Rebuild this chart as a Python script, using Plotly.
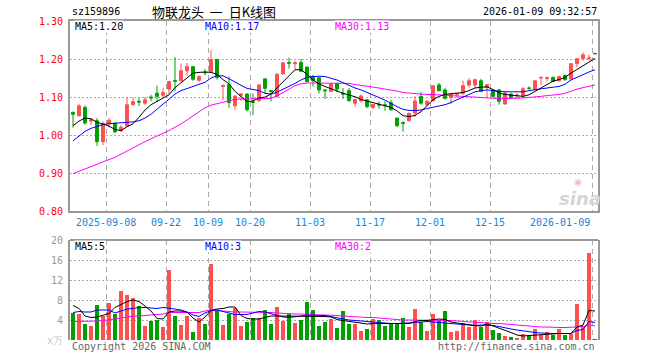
import plotly.graph_objects as go

# ---------------- data ----------------
# trading-day index 0..87  (2025-08-29 .. 2026-01-09)
tick_idx = [6, 16, 23, 30, 40, 50, 60, 70, 87]
tick_labels = ["2025-09-08", "09-22", "10-09", "10-20", "11-03", "11-17", "12-01", "12-15", "2026-01-09"]

opens = [1.060, 1.051, 1.073, 1.037, 1.038, 0.983, 1.031, 1.032, 1.012, 1.024,
         1.080, 1.089, 1.084, 1.100, 1.110, 1.105, 1.121, 1.144, 1.143, 1.169,
         1.180, 1.144, 1.166, 1.167, 1.199, 1.128, 1.133, 1.077, 1.105, 1.108,
         1.088, 1.091, 1.148, 1.117, 1.102, 1.161, 1.191, 1.188, 1.191, 1.179,
         1.154, 1.151, 1.119, 1.115, 1.135, 1.110, 1.117, 1.084, 1.090, 1.093,
         1.073, 1.081, 1.080, 1.085, 1.045, 1.033, 1.038, 1.058, 1.102, 1.080,
         1.090, 1.132, 1.119, 1.099, 1.106, 1.110, 1.132, 1.132, 1.143, 1.125,
         1.119, 1.119, 1.082, 1.108, 1.103, 1.104, 1.124, 1.121, 1.150, 1.149,
         1.152, 1.143, 1.157, 1.148, 1.188, 1.201, 1.202, 1.215]
highs = [1.062, 1.082, 1.078, 1.045, 1.045, 1.036, 1.045, 1.033, 1.027, 1.100,
         1.099, 1.097, 1.100, 1.106, 1.130, 1.124, 1.143, 1.205, 1.188, 1.190,
         1.181, 1.157, 1.174, 1.224, 1.200, 1.132, 1.154, 1.104, 1.110, 1.110,
         1.110, 1.134, 1.148, 1.118, 1.163, 1.191, 1.204, 1.195, 1.200, 1.180,
         1.159, 1.151, 1.120, 1.137, 1.138, 1.124, 1.124, 1.094, 1.107, 1.094,
         1.082, 1.089, 1.089, 1.093, 1.046, 1.036, 1.060, 1.102, 1.113, 1.093,
         1.132, 1.137, 1.124, 1.108, 1.110, 1.143, 1.150, 1.146, 1.148, 1.133,
         1.121, 1.122, 1.115, 1.110, 1.110, 1.126, 1.128, 1.143, 1.152, 1.154,
         1.154, 1.156, 1.159, 1.188, 1.203, 1.218, 1.211, 1.215]
lows = [1.020, 1.049, 1.027, 1.027, 0.972, 0.974, 1.020, 1.005, 1.009, 1.023,
        1.078, 1.077, 1.080, 1.089, 1.087, 1.100, 1.108, 1.115, 1.140, 1.156,
        1.143, 1.141, 1.157, 1.165, 1.146, 1.092, 1.072, 1.068, 1.090, 1.062,
        1.053, 1.087, 1.110, 1.089, 1.099, 1.159, 1.175, 1.172, 1.166, 1.139,
        1.128, 1.110, 1.095, 1.113, 1.113, 1.095, 1.087, 1.075, 1.086, 1.071,
        1.069, 1.069, 1.064, 1.064, 1.021, 1.009, 1.036, 1.047, 1.080, 1.075,
        1.089, 1.115, 1.093, 1.082, 1.098, 1.106, 1.125, 1.124, 1.113, 1.099,
        1.099, 1.080, 1.080, 1.097, 1.097, 1.100, 1.119, 1.119, 1.132, 1.141,
        1.139, 1.141, 1.143, 1.145, 1.178, 1.196, 1.196, 1.213]
closes = [1.055, 1.077, 1.032, 1.040, 0.983, 1.030, 1.039, 1.009, 1.021, 1.080,
          1.088, 1.087, 1.093, 1.098, 1.102, 1.112, 1.141, 1.142, 1.169, 1.180,
          1.147, 1.154, 1.164, 1.199, 1.152, 1.131, 1.086, 1.103, 1.108, 1.067,
          1.086, 1.132, 1.123, 1.115, 1.160, 1.190, 1.189, 1.190, 1.168, 1.141,
          1.143, 1.119, 1.117, 1.135, 1.121, 1.108, 1.091, 1.094, 1.103, 1.075,
          1.081, 1.079, 1.078, 1.067, 1.025, 1.031, 1.057, 1.090, 1.084, 1.089,
          1.130, 1.117, 1.097, 1.108, 1.108, 1.130, 1.143, 1.146, 1.115, 1.133,
          1.102, 1.089, 1.111, 1.099, 1.105, 1.122, 1.123, 1.143, 1.152, 1.151,
          1.141, 1.154, 1.146, 1.188, 1.201, 1.211, 1.203, 1.214]

ma5 = [1.025, 1.037, 1.045, 1.043, 1.034, 1.028, 1.024, 1.015, 1.012, 1.022,
       1.030, 1.047, 1.066, 1.080, 1.088, 1.096, 1.106, 1.125, 1.138, 1.152,
       1.163, 1.165, 1.166, 1.165, 1.160, 1.146, 1.135, 1.115, 1.102, 1.088,
       1.090, 1.098, 1.100, 1.108, 1.124, 1.140, 1.155, 1.172, 1.172, 1.160,
       1.145, 1.135, 1.128, 1.123, 1.116, 1.110, 1.106, 1.101, 1.094, 1.090,
       1.087, 1.082, 1.078, 1.073, 1.064, 1.051, 1.049, 1.052, 1.062, 1.078,
       1.093, 1.102, 1.107, 1.109, 1.110, 1.112, 1.117, 1.124, 1.126, 1.127,
       1.120, 1.111, 1.107, 1.105, 1.103, 1.102, 1.106, 1.115, 1.124, 1.134,
       1.142, 1.146, 1.152, 1.163, 1.172, 1.182, 1.192, 1.202]
ma10 = [0.985, 0.998, 1.010, 1.018, 1.024, 1.028, 1.030, 1.031, 1.032, 1.033,
        1.035, 1.038, 1.045, 1.055, 1.068, 1.080, 1.093, 1.108, 1.117, 1.122,
        1.127, 1.132, 1.139, 1.150, 1.156, 1.156, 1.149, 1.140, 1.131, 1.123,
        1.120, 1.117, 1.110, 1.108, 1.113, 1.120, 1.128, 1.136, 1.145, 1.152,
        1.154, 1.155, 1.154, 1.150, 1.145, 1.138, 1.130, 1.124, 1.119, 1.113,
        1.106, 1.099, 1.092, 1.083, 1.075, 1.068, 1.065, 1.065, 1.066, 1.070,
        1.073, 1.076, 1.080, 1.086, 1.093, 1.100, 1.108, 1.114, 1.117, 1.119,
        1.117, 1.115, 1.114, 1.114, 1.114, 1.114, 1.117, 1.120, 1.122, 1.124,
        1.126, 1.128, 1.134, 1.145, 1.152, 1.160, 1.166, 1.172]
ma30 = [0.899, 0.905, 0.911, 0.917, 0.922, 0.930, 0.936, 0.942, 0.950, 0.959,
        0.967, 0.975, 0.983, 0.991, 0.998, 1.005, 1.012, 1.020, 1.030, 1.040,
        1.050, 1.060, 1.072, 1.079, 1.083, 1.087, 1.091, 1.094, 1.095, 1.095,
        1.095, 1.095, 1.096, 1.097, 1.103, 1.112, 1.120, 1.130, 1.135, 1.137,
        1.137, 1.137, 1.137, 1.137, 1.137, 1.137, 1.136, 1.133, 1.131, 1.129,
        1.126, 1.124, 1.121, 1.119, 1.116, 1.112, 1.110, 1.109, 1.108, 1.107,
        1.107, 1.106, 1.105, 1.104, 1.103, 1.101, 1.100, 1.099, 1.098, 1.097,
        1.096, 1.096, 1.096, 1.096, 1.097, 1.098, 1.099, 1.100, 1.102, 1.104,
        1.105, 1.107, 1.110, 1.116, 1.121, 1.125, 1.129, 1.132]

volumes = [5.5, 5.2, 3.2, 2.8, 7.0, 4.9, 7.4, 5.3, 9.8, 9.0,
           8.4, 6.8, 2.8, 3.9, 4.0, 2.6, 14.0, 4.8, 3.0, 4.9,
           1.6, 4.5, 3.3, 15.2, 6.0, 3.0, 5.2, 6.5, 2.8, 3.6,
           4.5, 4.5, 6.0, 3.2, 6.6, 3.9, 5.3, 3.4, 4.0, 7.7,
           6.0, 2.8, 3.6, 4.2, 2.5, 5.8, 3.2, 3.2, 1.8, 2.2,
           4.2, 4.0, 2.8, 3.2, 3.2, 4.4, 2.6, 6.2, 3.6, 1.8,
           5.2, 4.0, 5.8, 1.6, 1.8, 3.4, 2.6, 4.0, 2.6, 3.7,
           2.0, 1.4, 0.8, 0.6, 0.4, 1.2, 0.8, 2.2, 1.0, 1.6,
           1.0, 2.2, 1.0, 1.2, 7.2, 2.8, 17.5, 0.2]
vma5 = [6.9, 6.3, 4.8, 4.5, 4.6, 4.9, 5.3, 6.5, 7.1, 7.7,
        8.0, 7.7, 6.8, 5.8, 4.3, 4.2, 5.6, 5.8, 5.8, 5.6,
        4.4, 3.6, 4.6, 5.9, 6.2, 6.3, 6.6, 6.6, 4.9, 4.3,
        4.2, 4.2, 4.5, 4.8, 4.8, 4.8, 4.8, 4.8, 4.7, 4.8,
        4.8, 4.8, 4.7, 4.6, 4.1, 3.9, 3.7, 3.6, 3.4, 3.2,
        3.3, 3.3, 3.3, 3.2, 3.2, 3.2, 3.3, 3.7, 3.9, 3.9,
        4.0, 4.2, 4.1, 3.6, 3.4, 3.2, 3.0, 2.9, 2.8, 3.2,
        2.8, 2.4, 2.0, 1.5, 1.0, 0.8, 0.9, 1.0, 1.1, 1.2,
        1.3, 1.3, 1.3, 1.3, 2.6, 3.0, 5.9, 5.8]
vma10 = [5.5, 5.7, 5.6, 5.6, 6.0, 6.0, 6.0, 5.4, 5.8, 6.2,
         6.3, 6.5, 6.5, 6.4, 6.3, 6.5, 6.4, 6.2, 6.0, 5.6,
         5.0, 4.7, 5.4, 5.9, 6.0, 5.7, 5.3, 5.1, 5.1, 5.1,
         5.4, 5.7, 5.6, 5.3, 5.0, 4.6, 4.5, 4.6, 4.8, 5.0,
         5.0, 5.0, 4.9, 4.7, 4.4, 4.2, 4.0, 3.9, 3.7, 3.6,
         3.5, 3.4, 3.4, 3.3, 3.3, 3.3, 3.4, 3.5, 3.6, 3.7,
         3.6, 3.5, 3.4, 3.3, 3.1, 3.0, 2.9, 2.9, 3.0, 3.0,
         2.9, 2.7, 2.4, 2.2, 2.0, 1.8, 1.6, 1.5, 1.4, 1.3,
         1.3, 1.3, 1.3, 1.3, 1.9, 2.1, 3.7, 3.5]
vma30 = [3.7, 3.7, 3.7, 3.7, 3.8, 3.9, 4.0, 4.2, 4.4, 4.6,
         4.8, 4.8, 4.9, 4.9, 5.0, 5.2, 5.5, 5.5, 5.5, 5.5,
         5.5, 5.5, 5.8, 6.0, 5.9, 5.8, 5.6, 5.6, 5.6, 5.6,
         5.6, 5.6, 5.5, 5.5, 5.4, 5.3, 5.3, 5.2, 5.2, 5.1,
         5.1, 5.0, 5.0, 5.0, 4.9, 4.8, 4.7, 4.6, 4.6, 4.5,
         4.5, 4.4, 4.3, 4.2, 4.0, 4.0, 4.0, 4.0, 4.0, 4.0,
         4.0, 4.0, 4.0, 3.9, 3.8, 3.7, 3.7, 3.6, 3.5, 3.4,
         3.3, 3.3, 3.2, 3.1, 3.0, 2.9, 2.7, 2.7, 2.6, 2.6,
         2.5, 2.5, 2.5, 2.5, 2.6, 2.7, 3.0, 2.8]

price_ticks = [0.80, 0.90, 1.00, 1.10, 1.20, 1.30]
vol_ticks = [0, 4, 8, 12, 16, 20]

# ---------------- figure ----------------
RED = "#ff5050"
GREEN = "#00a000"
GRID = "#aaaaaa"
MONO = "DejaVu Sans Mono, Liberation Mono, monospace"

n = len(closes)
x = list(range(n))
vol_colors = [RED if c > o else GREEN for o, c in zip(opens, closes)]

fig = go.Figure()
fig.add_trace(go.Candlestick(
    x=x, open=opens, high=highs, low=lows, close=closes,
    increasing=dict(line=dict(color=RED, width=1), fillcolor=RED),
    decreasing=dict(line=dict(color=GREEN, width=1), fillcolor=GREEN),
    whiskerwidth=0, xaxis="x", yaxis="y", hoverinfo="skip"))
for vals, col in [(ma30, "#ff00ff"), (ma10, "#0000ff"), (ma5, "#000000")]:
    fig.add_trace(go.Scatter(x=x, y=vals, mode="lines", line=dict(color=col, width=1),
                             xaxis="x", yaxis="y", hoverinfo="skip"))

fig.add_trace(go.Bar(x=x, y=volumes, marker=dict(color=vol_colors, line=dict(width=0)),
                     width=0.78, xaxis="x2", yaxis="y2", hoverinfo="skip"))
for vals, col in [(vma30, "#ff00ff"), (vma10, "#0000ff"), (vma5, "#000000")]:
    fig.add_trace(go.Scatter(x=x, y=vals, mode="lines", line=dict(color=col, width=1),
                             xaxis="x2", yaxis="y2", hoverinfo="skip"))

grid_x = [t - 0.5 for t in tick_idx]
H = 319.0  # plot height in px (t=21, b=20)
def py(px):
    return (340 - px) / H

price_dom = [py(211.3), 1.0]
vol_dom = [0.0, py(240)]

fig.update_layout(
    width=660, height=360,
    margin=dict(l=70, r=62, t=21, b=20),
    paper_bgcolor="white", plot_bgcolor="white",
    showlegend=False, bargap=0,
    xaxis=dict(domain=[0, 1], range=[-0.5, n - 0.5], anchor="y",
               rangeslider=dict(visible=False),
               tickvals=grid_x, showticklabels=False, ticks="",
               showgrid=True, gridcolor=GRID, griddash="5px,4px", gridwidth=1,
               showline=True, linecolor="#999999", linewidth=2, mirror=True,
               zeroline=False, fixedrange=True),
    yaxis=dict(domain=price_dom, range=[0.80, 1.30], anchor="x",
               tickvals=price_ticks, ticktext=[f"{v:.2f}" for v in price_ticks],
               tickfont=dict(family=MONO, size=10, color="#ff0000"),
               ticks="", ticklabelstandoff=3,
               showgrid=True, gridcolor=GRID, griddash="2px,2px", gridwidth=1,
               showline=True, linecolor="#999999", linewidth=2, mirror=True,
               zeroline=False),
    xaxis2=dict(domain=[0, 1], range=[-0.5, n - 0.5], anchor="y2", matches="x",
                tickvals=grid_x, showticklabels=False, ticks="",
                showgrid=True, gridcolor=GRID, griddash="5px,4px", gridwidth=1,
                showline=False, zeroline=False),
    yaxis2=dict(domain=vol_dom, range=[0, 20], anchor="x2",
                tickvals=vol_ticks,
                ticktext=['<span style="color:#c8c8c8">x万</span>'] + [str(v) for v in vol_ticks[1:]],
                tickfont=dict(family=MONO, size=10, color="#999999"),
                ticks="", ticklabelstandoff=3,
                showgrid=True, gridcolor=GRID, griddash="2px,2px", gridwidth=1,
                showline=True, linecolor="#999999", linewidth=2, mirror=True,
                zeroline=False),
)

# top border of volume panel
fig.add_shape(type="line", xref="paper", yref="paper", x0=0, x1=1, y0=vol_dom[1], y1=vol_dom[1],
              line=dict(color="#999999", width=2))

ann = []
def px_x(px):
    return (px - 70) / 528.0

# header
ann.append(dict(text="sz159896", x=px_x(70), y=py(12), xanchor="left", yanchor="middle",
                font=dict(family=MONO, size=10, color="#000000")))
ann.append(dict(text="物联龙头\u00a0\u00a0一\u00a0\u00a0日K线图", x=px_x(214), y=py(12),
                xanchor="center", yanchor="middle",
                font=dict(family="Noto Sans CJK SC", size=13, color="#000000")))
ann.append(dict(text="2026-01-09 09:32:57", x=px_x(599), y=py(12), xanchor="right", yanchor="middle",
                font=dict(family=MONO, size=10, color="#000000")))
# MA labels (price)
for txt, xx, col in [(f"MA5:{ma5[-1]:.2f}", 74, "#000000"), (f"MA10:{ma10[-1]:.2f}", 204, "#0000ff"),
                     (f"MA30:{ma30[-1]:.2f}", 334, "#ff00ff")]:
    ann.append(dict(text=txt, x=px_x(xx), y=py(27), xanchor="left", yanchor="middle",
                    bgcolor="white", borderpad=0,
                    font=dict(family=MONO, size=10, color=col)))
# MA labels (volume)
for txt, xx, col in [(f"MA5:{int(vma5[-1])}", 74, "#000000"), (f"MA10:{int(vma10[-1])}", 204, "#0000ff"),
                     (f"MA30:{int(vma30[-1])}", 334, "#ff00ff")]:
    ann.append(dict(text=txt, x=px_x(xx), y=py(246.5), xanchor="left", yanchor="middle",
                    bgcolor="white", borderpad=0,
                    font=dict(family=MONO, size=10, color=col)))
# date labels
for k, (t, lab) in enumerate(zip(tick_idx, tick_labels)):
    last = k == len(tick_idx) - 1
    ann.append(dict(text=lab, x=px_x(70 + 6 * t), y=py(222),
                    xanchor="right" if last else "center", yanchor="middle",
                    font=dict(family=MONO, size=10, color="#1a84d6")))
# footer
ann.append(dict(text="Copyright 2026 SINA.COM", x=px_x(70), y=py(346.5), xanchor="left", yanchor="middle",
                font=dict(family=MONO, size=10, color="#666666")))
ann.append(dict(text="http://finance.sina.com.cn", x=px_x(597), y=py(346.5), xanchor="right", yanchor="middle",
                font=dict(family=MONO, size=10, color="#666666")))
# watermark
ann.append(dict(text="<b><i>sina</i></b>", x=px_x(580), y=py(198), xanchor="center", yanchor="middle",
                font=dict(family="DejaVu Sans", size=18, color="#d4d4d4")))
ann.append(dict(text="◉", x=px_x(578), y=py(182), xanchor="center", yanchor="middle",
                font=dict(family="DejaVu Sans", size=9, color="#f0bcbc")))

for a in ann:
    a.update(xref="paper", yref="paper", showarrow=False)
fig.update_layout(annotations=ann)

fig.write_html("out.html", config={"displayModeBar": False, "staticPlot": True},
               post_script="document.body.style.margin='0';document.body.style.padding='0';")
